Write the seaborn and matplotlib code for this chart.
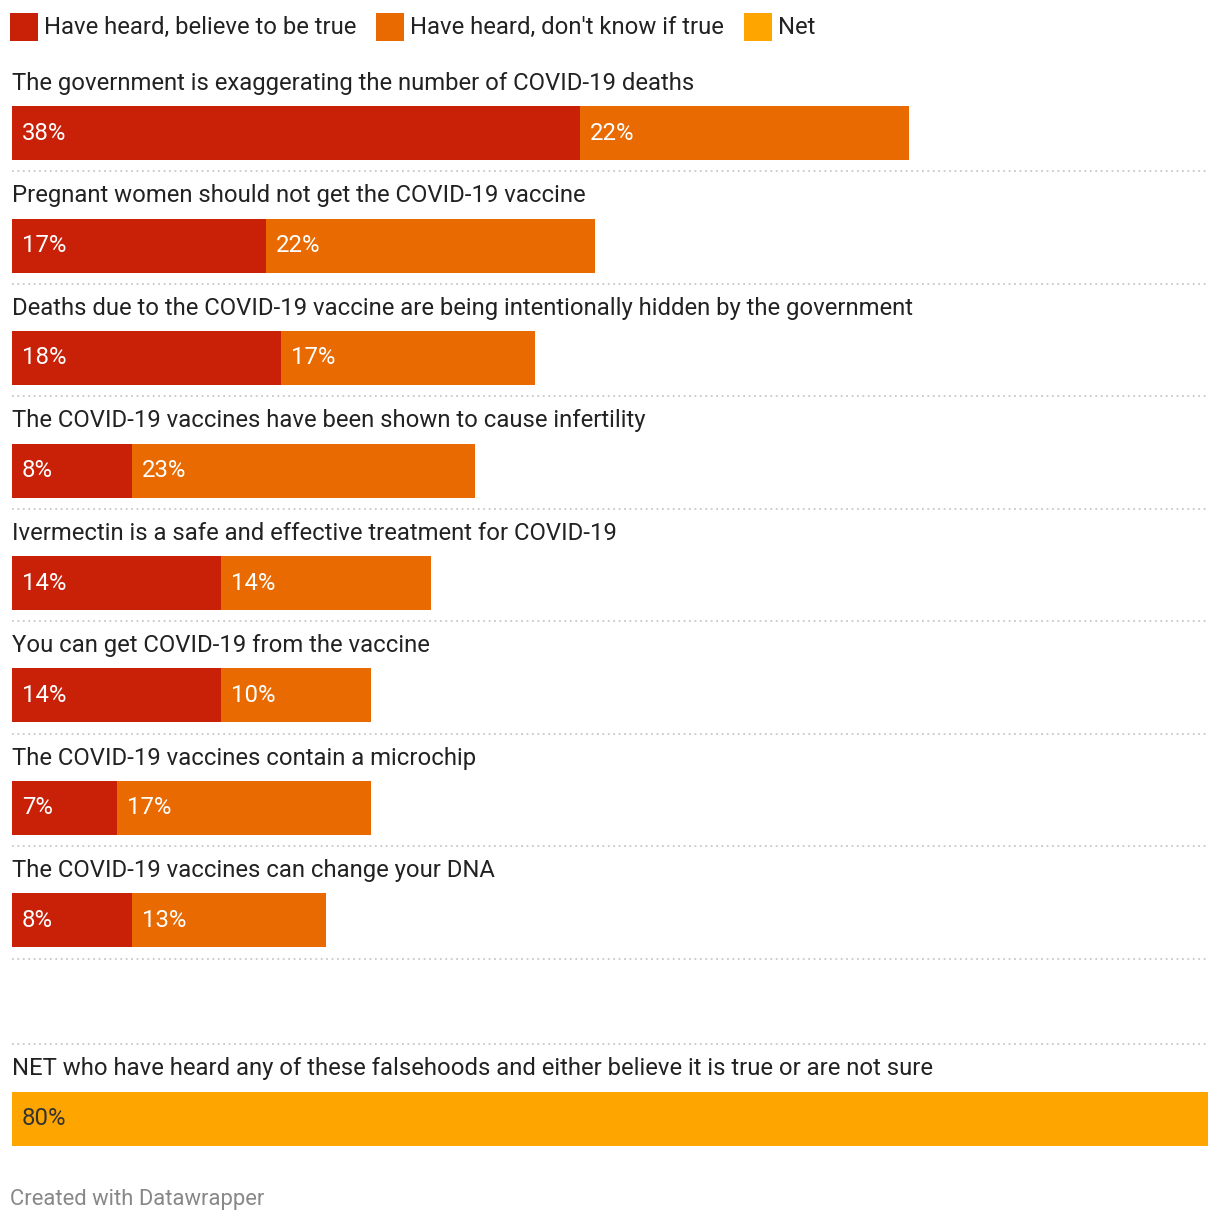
import matplotlib
matplotlib.use("Agg")
import matplotlib.pyplot as plt
import seaborn as sns
import pandas as pd
from matplotlib.patches import Rectangle

statements = [
    "The government is exaggerating the number of COVID-19 deaths",
    "Pregnant women should not get the COVID-19 vaccine",
    "Deaths due to the COVID-19 vaccine are being intentionally hidden by the government",
    "The COVID-19 vaccines have been shown to cause infertility",
    "Ivermectin is a safe and effective treatment for COVID-19",
    "You can get COVID-19 from the vaccine",
    "The COVID-19 vaccines contain a microchip",
    "The COVID-19 vaccines can change your DNA",
]
believe = [38, 17, 18, 8, 14, 14, 7, 8]
unsure = [22, 22, 17, 23, 14, 10, 17, 13]
net_label = "NET who have heard any of these falsehoods and either believe it is true or are not sure"
net_value = [80]
legend_labels = ["Have heard, believe to be true", "Have heard, don't know if true", "Net"]

C_RED = "#c82108"
C_ORANGE = "#e86a00"
C_NET = "#ffa500"
TXT = "#222222"

sns.set_theme(style="white")
plt.rcParams["font.family"] = ["Roboto", "DejaVu Sans"]

W, H = 1220, 1222
fig = plt.figure(figsize=(W / 100, H / 100), dpi=100)

ROW = 112.5  # px per row
FS = 17.2
XMAX = 80

def make_ax(top_px, bot_px, center_px):
    ax = fig.add_axes([12 / W, 1 - bot_px / H, 1196 / W, (bot_px - top_px) / H])
    return ax, (bot_px - center_px) / ROW, (top_px - center_px) / ROW

df = pd.DataFrame({"statement": statements, "believe": believe, "unsure": unsure})
df["total"] = df["believe"] + df["unsure"]

ax1, yb, yt = make_ax(45, 985, 133)
sns.barplot(data=df, x="total", y="statement", order=statements, color=C_ORANGE,
            width=0.48, orient="h", ax=ax1, saturation=1, linewidth=0)
sns.barplot(data=df, x="believe", y="statement", order=statements, color=C_RED,
            width=0.48, orient="h", ax=ax1, saturation=1, linewidth=0)
ax1.set_ylim(yb, yt)
ax1.set_xlim(0, XMAX)
pad = 10 / 14.95
for i, (s, b, u) in enumerate(zip(statements, believe, unsure)):
    ax1.text(0, i - 0.443, s, fontsize=FS, color=TXT, va="center", ha="left")
    ax1.text(pad, i, f"{b}%", fontsize=FS, color="white", va="center", ha="left")
    ax1.text(b + pad, i, f"{u}%", fontsize=FS, color="white", va="center", ha="left")
    ax1.axhline(i + 0.34, color="#c8c8c8", lw=1.3, ls=(0, (1, 2)))

ndf = pd.DataFrame({"statement": [net_label], "net": net_value})
ax2, yb2, yt2 = make_ax(1000, 1165, 1118.5)
sns.barplot(data=ndf, x="net", y="statement", color=C_NET, width=0.48, orient="h",
            ax=ax2, saturation=1, linewidth=0)
ax2.set_ylim(yb2, yt2)
ax2.set_xlim(0, XMAX)
ax2.text(0, -0.443, net_label, fontsize=FS, color=TXT, va="center", ha="left")
ax2.text(pad, 0, f"{net_value[0]}%", fontsize=FS, color="#333333", va="center", ha="left")
ax2.axhline(-0.666, color="#c8c8c8", lw=1.3, ls=(0, (1, 2)))

for ax in (ax1, ax2):
    ax.set_xlabel("")
    ax.set_ylabel("")
    ax.set_xticks([])
    ax.set_yticks([])
    for sp in ax.spines.values():
        sp.set_visible(False)
    ax.patch.set_alpha(0)

# legend
renderer = fig.canvas.get_renderer()
x = 10
for lab, col in zip(legend_labels, [C_RED, C_ORANGE, C_NET]):
    fig.patches.append(Rectangle((x / W, 1 - 41 / H), 28 / W, 28 / H,
                                 transform=fig.transFigure, color=col, lw=0))
    t = fig.text((x + 34) / W, 1 - 27.5 / H, lab, fontsize=FS, color=TXT, va="center", ha="left")
    bb = t.get_window_extent(renderer)
    x = bb.x1 + 20

fig.text(10 / W, 1 - 1199 / H, "Created with Datawrapper", fontsize=15.8, color="#888888",
         va="center", ha="left")

fig.savefig("out.png", dpi=100)
